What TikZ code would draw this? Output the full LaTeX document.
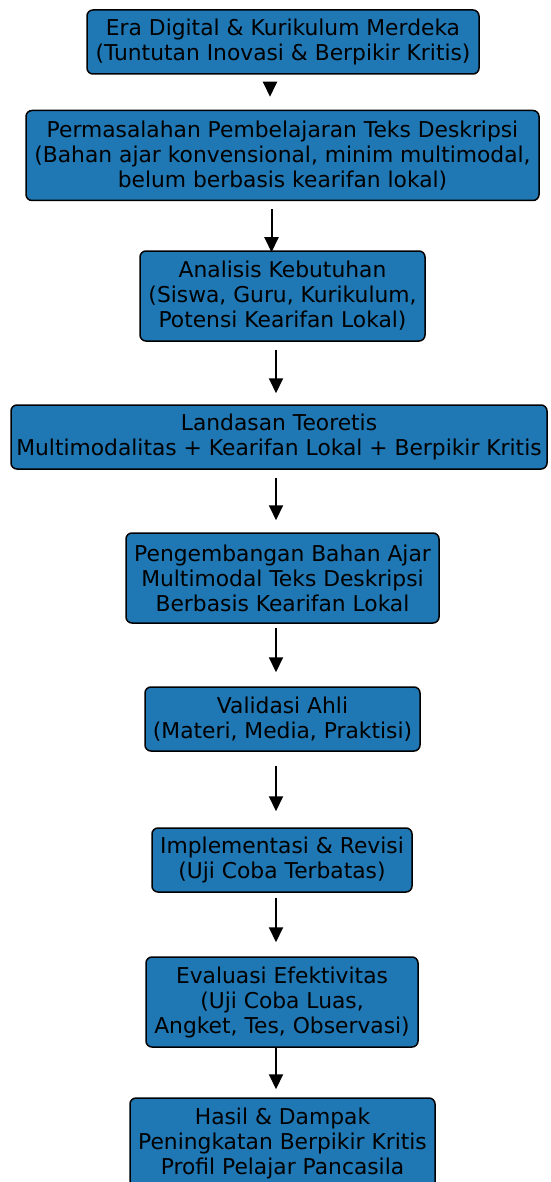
\documentclass[tikz,border=0pt]{standalone}
\usepackage{fontspec}
\setmainfont{DejaVu Sans}
\usepackage{xcolor}
\usetikzlibrary{positioning, arrows.meta}
\definecolor{kotak}{HTML}{1F77B4}

\begin{document}
\begin{tikzpicture}[x=1pt, y=1pt,
			langkah/.style={draw=black, line width=1.5pt, fill=kotak, rounded corners=6pt, align=center,
				font=\fontsize{21.8}{25}\selectfont, inner sep=0pt, minimum height=64pt},
			panah/.style={-{Triangle[length=15pt,width=14pt]}, line width=2pt}]
			\useasboundingbox (0,0) rectangle (550,-1182);
			\node[langkah, minimum width=392pt] (era) at (283, -42) {Era Digital \& Kurikulum Merdeka\\(Tuntutan Inovasi \& Berpikir Kritis)};
			\node[langkah, minimum width=513pt, minimum height=90pt] (masalah) at (282.5, -155.5) {Permasalahan Pembelajaran Teks Deskripsi\\(Bahan ajar konvensional, minim multimodal,\\belum berbasis kearifan lokal)};
			\node[langkah, minimum width=285pt, minimum height=90pt] (analisis) at (282.5, -296) {Analisis Kebutuhan\\(Siswa, Guru, Kurikulum,\\Potensi Kearifan Lokal)};
			\node[langkah, minimum width=536pt] (landasan) at (279, -437) {Landasan Teoretis\\Multimodalitas + Kearifan Lokal + Berpikir Kritis};
			\node[langkah, minimum width=313pt, minimum height=90pt] (kembang) at (282.5, -578) {Pengembangan Bahan Ajar\\Multimodal Teks Deskripsi\\Berbasis Kearifan Lokal};
			\node[langkah, minimum width=275pt] (validasi) at (282.5, -719) {Validasi Ahli\\(Materi, Media, Praktisi)};
			\node[langkah, minimum width=260pt] (implementasi) at (282, -860) {Implementasi \& Revisi\\(Uji Coba Terbatas)};
			\node[langkah, minimum width=272pt, minimum height=90pt] (evaluasi) at (282, -1002) {Evaluasi Efektivitas\\(Uji Coba Luas,\\Angket, Tes, Observasi)};
			\node[langkah, minimum width=305pt, minimum height=90pt] (hasil) at (282.5, -1143) {Hasil \& Dampak\\Peningkatan Berpikir Kritis\\Profil Pelajar Pancasila};
			% alur
			\draw [panah, shorten <=8pt, shorten >=13pt] ([xshift=-13pt]era.south) -- ([xshift=-12.5pt]masalah.north);
			\draw [panah, shorten <=8pt, shorten >=-2pt] ([xshift=-11pt]masalah.south) -- ([xshift=-11pt]analisis.north);
			\draw [panah, shorten <=8pt, shorten >=11pt] ([xshift=-6.5pt]analisis.south) -- ([xshift=-3pt]landasan.north);
			\draw [panah, shorten <=8pt, shorten >=12pt] ([xshift=-3pt]landasan.south) -- ([xshift=-6.5pt]kembang.north);
			\draw [panah, shorten <=4pt, shorten >=14pt] ([xshift=-6.5pt]kembang.south) -- ([xshift=-6.5pt]validasi.north);
			\draw [panah, shorten <=14pt, shorten >=16pt] ([xshift=-6.5pt]validasi.south) -- ([xshift=-6pt]implementasi.north);
			\draw [panah, shorten <=5pt, shorten >=14pt] ([xshift=-6pt]implementasi.south) -- ([xshift=-6pt]evaluasi.north);
			\draw [panah, shorten <=0pt, shorten >=8pt] ([xshift=-6pt]evaluasi.south) -- ([xshift=-6.5pt]hasil.north);
		\end{tikzpicture}
\end{document}
